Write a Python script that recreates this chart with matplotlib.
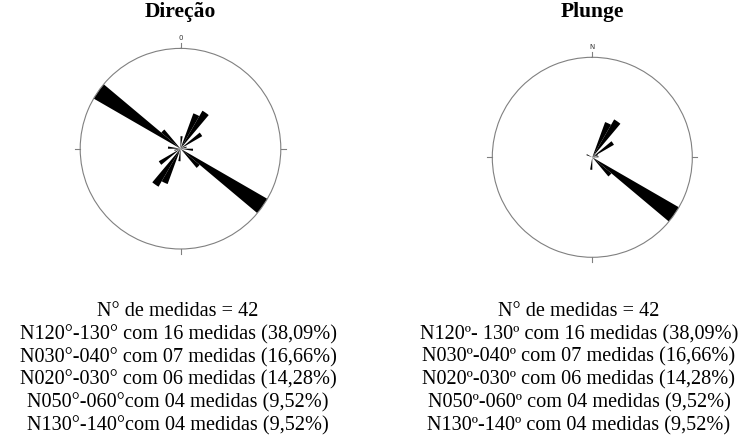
import numpy as np
import matplotlib.pyplot as plt

# classes de 10 graus (inicio do intervalo) e numero de medidas
dir_bins = [0, 20, 30, 50, 70, 90, 120, 130]
dir_counts = [2, 6, 7, 4, 1, 2, 16, 4]

plunge_bins = [20, 30, 50, 60, 80, 120, 130, 180, 290]
plunge_counts = [6, 7, 4, 1, 1, 16, 4, 2, 1]

dir_lines = ['N° de medidas = 42',
             'N120°-130° com 16 medidas (38,09%)',
             'N030°-040° com 07 medidas (16,66%)',
             'N020°-030° com 06 medidas (14,28%)',
             'N050°-060°com 04 medidas (9,52%)',
             'N130°-140°com 04 medidas (9,52%)']

plunge_lines = ['N° de medidas = 42',
                'N120º- 130º com 16 medidas (38,09%)',
                'N030º-040º com 07 medidas (16,66%)',
                'N020º-030º com 06 medidas (14,28%)',
                'N050º-060º com 04 medidas (9,52%)',
                'N130º-140º com 04 medidas (9,52%)']

W, H = 743, 437
rmax = 16
fig = plt.figure(figsize=(W/100, H/100), dpi=100)


def rosa(cx, cy, r, bins, counts, bidirecional, rotulo, titulo):
    ax = fig.add_axes([(cx - r)/W, (H - cy - r)/H, 2*r/W, 2*r/H], projection='polar')
    ax.set_theta_zero_location('N')
    ax.set_theta_direction(-1)
    theta = np.deg2rad(np.array(bins) + 5)
    ax.bar(theta, counts, width=np.deg2rad(10), bottom=0, color='black', linewidth=0)
    if bidirecional:
        ax.bar(theta + np.pi, counts, width=np.deg2rad(10), bottom=0, color='black', linewidth=0)
    ax.set_ylim(0, rmax)
    ax.set_xticks([])
    ax.set_yticks([])
    ax.grid(False)
    ax.spines['polar'].set_color('#808080')
    ax.spines['polar'].set_linewidth(0.8)
    for t in [0, 90, 180, 270]:
        ax.plot([np.deg2rad(t)]*2, [rmax, rmax*1.05], color='#808080', lw=0.8, clip_on=False)
    ax.text(0, rmax*1.10, rotulo, ha='center', va='center', fontsize=5, color='#333333',
            family='DejaVu Sans')
    fig.text(cx/W, 1 - 12/H, titulo, ha='center', va='center', fontsize=15.5,
             fontweight='bold', family='Liberation Serif')
    return ax


rosa(180.5, 148.7, 100.3, dir_bins, dir_counts, True, '0', 'Direção')
rosa(592.3, 157.3, 100.0, plunge_bins, plunge_counts, False, 'N', 'Plunge')

ys = [311.7, 334.5, 357.3, 380.1, 402.9, 425.7]
for x0, linhas in [(178, dir_lines), (579, plunge_lines)]:
    for y, s in zip(ys, linhas):
        fig.text(x0/W, 1 - y/H, s, ha='center', va='center', fontsize=14.6,
                 family='Liberation Serif')

fig.savefig('out.png', dpi=100)
